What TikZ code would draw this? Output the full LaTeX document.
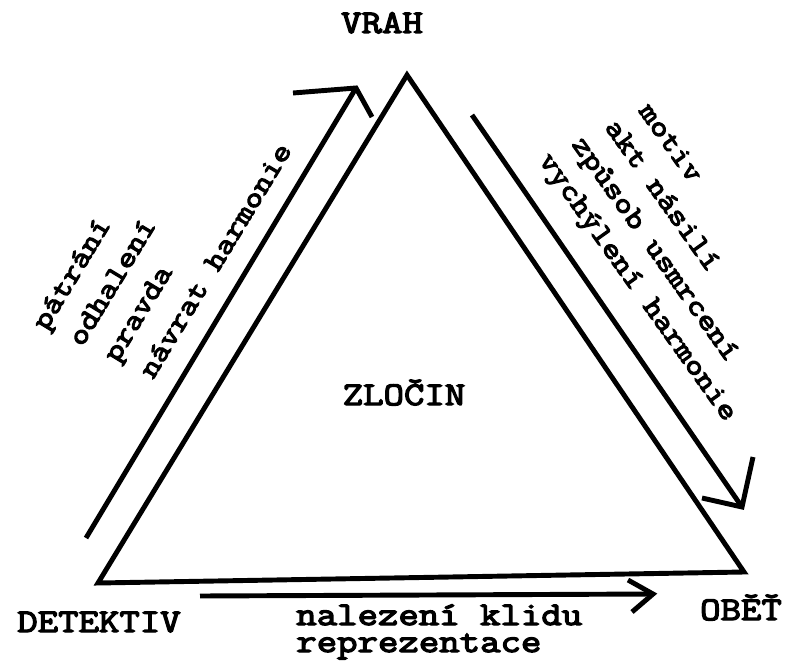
\documentclass[tikz,border=0pt]{standalone}
\usepackage{fontspec}
\usepackage{tikz}
\newfontfamily\typewriter[FakeStretch=1.2, FakeBold=4]{Latin Modern Mono}

\begin{document}
\begin{tikzpicture}[x=0.025cm, y=-0.025cm,
    side/.style={line width=3.5pt},
    flow/.style={line width=3.5pt},
    lbl/.style={font=\typewriter\fontsize{23.5}{28}\selectfont, inner sep=0pt},
    slant/.style={font=\typewriter\fontsize{20.6}{25}\selectfont, inner sep=0pt, anchor=base west}]
  \useasboundingbox (0,0) rectangle (793,668);

  % ── Triangle corners ──
  \coordinate (apex) at (407,75);
  \coordinate (leftc) at (98,583);
  \coordinate (rightc) at (744,572);
  \draw[side] (apex) -- (leftc) -- (rightc) -- cycle;

  % ── Corner labels ──
  \node[lbl, anchor=base] (vrah) at (382,33) {VRAH};
  \node[lbl, anchor=base] (detektiv) at (99,632) {DETEKTIV};
  \node[lbl, anchor=base] (obet) at (741,620) {OBĚŤ};
  \node[lbl, anchor=base] (zlocin) at (404,405) {ZLOČIN};

  % ── Left arrow (up to VRAH) ──
  \coordinate (upStart) at (86,538);
  \coordinate (upTip) at (356,88);
  \coordinate (upBarbA) at (293,93);
  \coordinate (upBarbB) at (372,117);
  \draw[flow] (upStart) -- (upTip);
  \draw[flow] (upBarbA) -- (upTip) -- (upBarbB);

  % ── Right arrow (down to OBĚŤ) ──
  \coordinate (downStart) at (472,115);
  \coordinate (downTip) at (742,507);
  \coordinate (downBarbA) at (753,457);
  \coordinate (downBarbB) at (702,498);
  \draw[flow] (downStart) -- (downTip);
  \draw[flow] (downBarbA) -- (downTip) -- (downBarbB);

  % ── Bottom arrow ──
  \coordinate (baseStart) at (200,596);
  \coordinate (baseTip) at (653,594);
  \coordinate (baseBarbA) at (628,580);
  \coordinate (baseBarbB) at (632,612);
  \draw[flow] (baseStart) -- (baseTip);
  \draw[flow] (baseBarbA) -- (baseTip) -- (baseBarbB);

  % ── Slanted texts ──
  \foreach \i/\x/\y/\txt in {
    1/46/332/{pátrání},
    2/82/348/{odhalení},
    3/117/364/{pravda},
    4/153/380/{návrat harmonie}} {
    \node[slant, rotate=58.8] (hunt\i) at (\x,\y) {\txt};
  }
  \foreach \i/\x/\y/\txt in {
    1/638/111/{motiv},
    2/604/127/{akt násilí},
    3/571/144/{způsob usmrcení},
    4/538/160/{vychýlení harmonie}} {
    \node[slant, rotate=-54.5] (deed\i) at (\x,\y) {\txt};
  }

  % ── Bottom texts ──
  \node[lbl, anchor=base west] (klid) at (296,625) {nalezení klidu};
  \node[lbl, anchor=base west] (repr) at (296,652) {reprezentace};
\end{tikzpicture}
\end{document}
